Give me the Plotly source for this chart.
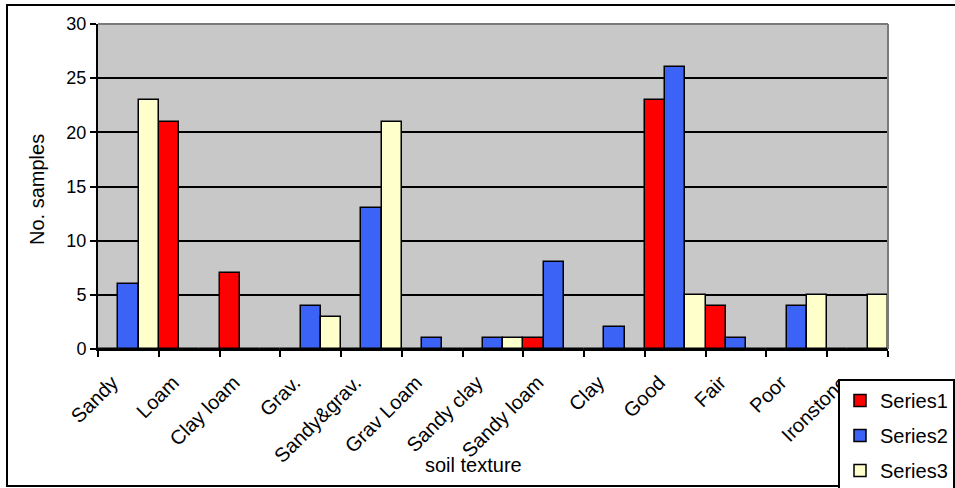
import plotly.graph_objects as go

categories = ["Sandy", "Loam", "Clay loam", "Grav.", "Sandy&grav.", "Grav Loam",
              "Sandy clay", "Sandy loam", "Clay", "Good", "Fair", "Poor", "Ironstone"]
series1 = [0, 21, 7, 0, 0, 0, 0, 1, 0, 23, 4, 0, 0]
series2 = [6, 0, 0, 4, 13, 1, 1, 8, 2, 26, 1, 4, 0]
series3 = [23, 0, 0, 3, 21, 0, 1, 0, 0, 5, 0, 5, 5]
series_names = ["Series1", "Series2", "Series3"]
colors = ["#ff0000", "#3b63f5", "#ffffcc"]

W, H = 955, 488
L, R, T, B = 98, 888, 24, 349

def px(x):
    return (x - L) / (R - L)

def py(y):
    return (B - y) / (B - T)

fig = go.Figure()
for name, vals, col in zip(series_names, [series1, series2, series3], colors):
    fig.add_trace(go.Bar(
        x=categories, y=vals, name=name, legendgroup=name,
        marker=dict(color=col, line=dict(color="black", width=1.5)),
    ))

fig.update_layout(
    width=W, height=H,
    margin=dict(l=L, r=W - R, t=T, b=H - B, autoexpand=False),
    paper_bgcolor="white", plot_bgcolor="#c8c8c8",
    barmode="group", bargap=0, bargroupgap=0,
    font=dict(family="Arial, Liberation Sans, sans-serif", color="black"),
    showlegend=True,
    legend=dict(
        x=px(838), y=py(379), xanchor="left", yanchor="top",
        bgcolor="white", bordercolor="black", borderwidth=2,
        font=dict(size=20), traceorder="grouped", tracegroupgap=6,
        itemwidth=30,
    ),
    xaxis=dict(
        type="category", tickson="boundaries", ticks="outside", ticklen=6,
        tickwidth=2, tickcolor="black", showline=True, linecolor="black",
        linewidth=2, tickangle=-45, tickfont=dict(size=20), showgrid=False,
        ticklabelshift=-16, ticklabelstandoff=12,
        fixedrange=True,
    ),
    yaxis=dict(
        range=[0, 30], dtick=5, ticks="outside", ticklen=6, tickwidth=2,
        tickcolor="black", showline=True, linecolor="black", linewidth=2,
        showgrid=True, gridcolor="black", gridwidth=2, zeroline=False,
        tickfont=dict(size=18),
    ),
)

# plot-area top/right border (gray)
fig.add_shape(type="line", xref="paper", yref="paper", x0=0, x1=1, y0=1, y1=1,
              line=dict(color="#7a7a7a", width=2), layer="above")
fig.add_shape(type="line", xref="paper", yref="paper", x0=1, x1=1, y0=0, y1=1,
              line=dict(color="#7a7a7a", width=2), layer="above")
# outer chart border
fig.add_shape(type="rect", xref="paper", yref="paper",
              x0=px(7), x1=px(958), y0=py(486), y1=py(5),
              line=dict(color="black", width=2), layer="above")

fig.add_annotation(text="soil texture", xref="paper", yref="paper",
                   x=px(473), y=py(465), xanchor="center", yanchor="middle",
                   showarrow=False, font=dict(size=20))
fig.add_annotation(text="No. samples", xref="paper", yref="paper",
                   x=px(37), y=py(190), xanchor="center", yanchor="middle",
                   textangle=-90, showarrow=False, font=dict(size=20))

fig.write_html("out.html")
